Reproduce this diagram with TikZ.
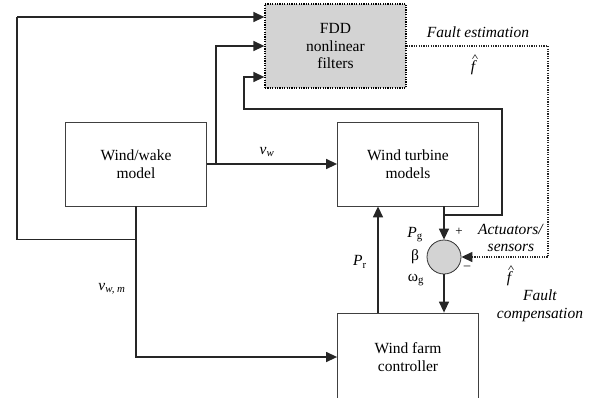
\documentclass[tikz,border=0pt]{standalone}
\usepackage{fontspec}
\setmainfont{Liberation Serif}
\usetikzlibrary{arrows.meta,positioning,calc}
\definecolor{fddgray}{HTML}{D3D3D3}

\begin{document}
\begin{tikzpicture}[
      x=1pt,y=-1pt,
      font=\fontsize{15.5}{17.5}\selectfont,
      blk/.style={
        draw=black!75,
        line width=0.8pt,
        align=center,
        minimum width=141pt,
        minimum height=84pt
      },
      fddblk/.style={
        blk,
        draw=black,
        fill=fddgray,
        line width=1.3pt,
        dash pattern=on 1.2pt off 1.2pt
      },
      sumnode/.style={
        circle,
        draw=black!80,
        line width=0.8pt,
        fill=fddgray,
        minimum size=34pt,
        inner sep=0pt
      },
      sig/.style={
        -{Triangle[length=11pt,width=10pt]},
        line width=1.4pt,
        black!85
      },
      wire/.style={
        line width=1.4pt,
        black!85
      },
      est/.style={
        sig,
        line width=1.3pt,
        dash pattern=on 1.2pt off 1.2pt
      },
      lbl/.style={
        align=center,
        inner sep=0pt
      },
      caret/.style={
        line width=0.6pt,
        black!80
      }
    ]

    \useasboundingbox (0,0) rectangle (603,397);

    % blocks
    \node[fddblk] (fdd) at (335.5,46)
      {FDD\\nonlinear\\filters};

    \node[blk] (wake) at (136,164)
      {Wind/wake\\model};

    \node[blk] (turb) at (408,164)
      {Wind turbine\\models};

    \node[blk,minimum height=88pt] (farm) at (408,357)
      {Wind farm\\controller};

    \node[sumnode] (sum) at (444,257) {};

    % bend points
    \coordinate (vwsplit) at (216,164);
    \coordinate (vmsplit) at ($(wake.south)+(0,33)$);
    \coordinate (ltop) at (17,17);
    \coordinate (tsplit) at (444,215);
    \coordinate (fbtop) at (502,109);
    \coordinate (fbin) at (244,77);
    \coordinate (dcorner) at (548,46);

    % wind signals
    \draw[sig] (wake.east) -- (turb.west);
    \draw[sig] (vwsplit) |- (fdd.west);
    \draw[sig] (wake.south) |- (farm.west);
    \draw[wire] (vmsplit) -| (ltop);
    \draw[sig] (ltop) -- (ltop -| fdd.west);

    % turbine outputs
    \draw[sig] (turb.south -| sum) -- (sum.north);
    \draw[sig] (tsplit) -| (fbtop) -| (fbin) -- (fbin -| fdd.west);
    \draw[sig] (sum.south) -- (sum.south |- farm.north);
    \draw[sig] ($(farm.north)+(-30,0)$) -- ($(turb.south)+(-30,0)$);

    % fault estimate
    \draw[est] (fdd.east) -- (dcorner) |- (sum.east);

    % labels
    \node[lbl] (lvw) at (267,152) {\textit{v\textsubscript{w}}};
    \node[lbl] (lvm) at (112,289) {\textit{v\textsubscript{w, m}}};
    \node[lbl] (lpr) at (360,262) {\textit{P}\textsubscript{r}};
    \node[lbl] (lpg) at (415,235) {\textit{P}\textsubscript{g}};
    \node[lbl] (lbeta) at (415,257) {β};
    \node[lbl] (lomega) at (416,280) {ω\textsubscript{g}};
    \node[lbl,font=\fontsize{13}{14}\selectfont] (lplus) at (459,232) {+};
    \node[lbl,font=\fontsize{13}{14}\selectfont] (lminus) at (467,268) {\textendash};
    \node[lbl] (lfe) at (478,32) {\textit{Fault estimation}};
    \node[lbl] (lf1) at (474,68) {\textit{f}};
    \node[lbl] (las) at (511,238) {\textit{Actuators/}\\\textit{sensors}};
    \node[lbl] (lf2) at (510,279) {\textit{f}};
    \node[lbl] (lfc) at (540,306) {\textit{Fault}\\\textit{compensation}};

    % hats over f
    \foreach \f in {lf1,lf2}
      \draw[caret] ($(\f.north)+(-1.5,-2)$) -- ++(2.5,-4) -- ++(2.5,4);

  \end{tikzpicture}
\end{document}
